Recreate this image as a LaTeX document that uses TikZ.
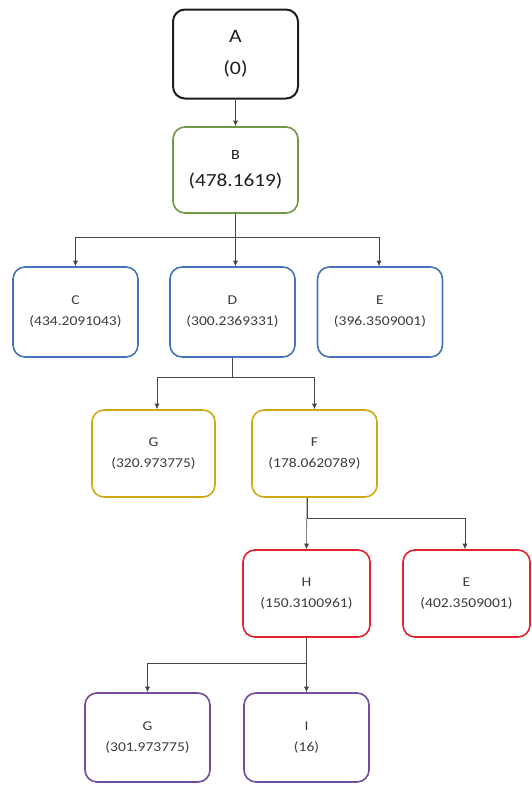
\documentclass[tikz,border=0pt]{standalone}
\usepackage{fontspec}
\setmainfont{Carlito}[FakeStretch=1.15]
\usetikzlibrary{arrows.meta,positioning}
\definecolor{RootBlack}{RGB}{30, 30, 30}
\definecolor{LabelGray}{RGB}{60, 60, 60}
\definecolor{LevelGreen}{RGB}{112, 150, 70}
\definecolor{LevelBlue}{RGB}{70, 115, 185}
\definecolor{LevelGold}{RGB}{205, 170, 20}
\definecolor{LevelRed}{RGB}{225, 35, 45}
\definecolor{LevelPurple}{RGB}{115, 75, 160}
\definecolor{LinkGray}{RGB}{70, 70, 70}

\begin{document}
\begin{tikzpicture}[x=1pt, y=-1pt,
    box/.style={draw=#1, line width=1.6pt, rounded corners=12pt, fill=white,
      text=LabelGray, minimum width=125pt, minimum height=88pt, align=center,
      font=\fontsize{13.5}{21}\selectfont},
    link/.style={draw=LinkGray, line width=0.6pt, -{Latex[length=5.5pt, width=5pt]}}]
    \useasboundingbox (0,0) rectangle (531,785);

    % Root and first child
    \node[box=RootBlack, line width=2pt, minimum height=89pt, text=RootBlack,
      font=\fontsize{19}{32}\selectfont] (a) at (235.5,54) {A\\(0)};
    \node[box=LevelGreen, minimum height=86pt, text=RootBlack,
      font=\fontsize{14}{27}\selectfont] (b) at (235.5,170) {B\\{\fontsize{18.5}{20}\selectfont(478.1619)}};

    % Level 2
    \node[box=LevelBlue, minimum height=90pt] (c) at (75.5,312) {C\\(434.2091043)};
    \node[box=LevelBlue, minimum height=90pt] (d) at (232.5,312) {D\\(300.2369331)};
    \node[box=LevelBlue, minimum height=90pt] (e) at (380,312) {E\\(396.3509001)};

    % Level 3
    \node[box=LevelGold, minimum width=123pt, minimum height=87pt] (g) at (153.5,453.5) {G\\(320.973775)};
    \node[box=LevelGold, minimum height=87pt] (f) at (314.5,453.5) {F\\(178.0620789)};

    % Level 4
    \node[box=LevelRed, minimum width=127pt, minimum height=87pt] (h) at (306.5,593.5) {H\\(150.3100961)};
    \node[box=LevelRed, minimum width=127pt, minimum height=87pt] (e2) at (466.5,593.5) {E\\(402.3509001)};

    % Level 5
    \node[box=LevelPurple, minimum height=89pt] (g2) at (147.5,737.5) {G\\(301.973775)};
    \node[box=LevelPurple, minimum height=89pt] (i) at (306.5,737.5) {I\\(16)};

    % Connectors
    \draw[link] (a) -- (b);
    \draw[link] (b.south) |- (75.5,237) -- (c.north);
    \draw[link] (b.south) -- (d.north -| b.south);
    \draw[link] (b.south) |- (379,237) -- (e.north -| 379,0);
    \draw[link] (d.south) |- (157,377) -- (g.north -| 157,0);
    \draw[link] (d.south) |- (314.5,377) -- (f.north);
    \draw[link] (f.south -| 307,0) -- (h.north);
    \draw[link] (f.south -| 307,0) |- (465,518) -- (e2.north -| 465,0);
    \draw[link] (h.south) |- (147.5,663) -- (g2.north);
    \draw[link] (h.south) -- (i.north);
  \end{tikzpicture}
\end{document}
